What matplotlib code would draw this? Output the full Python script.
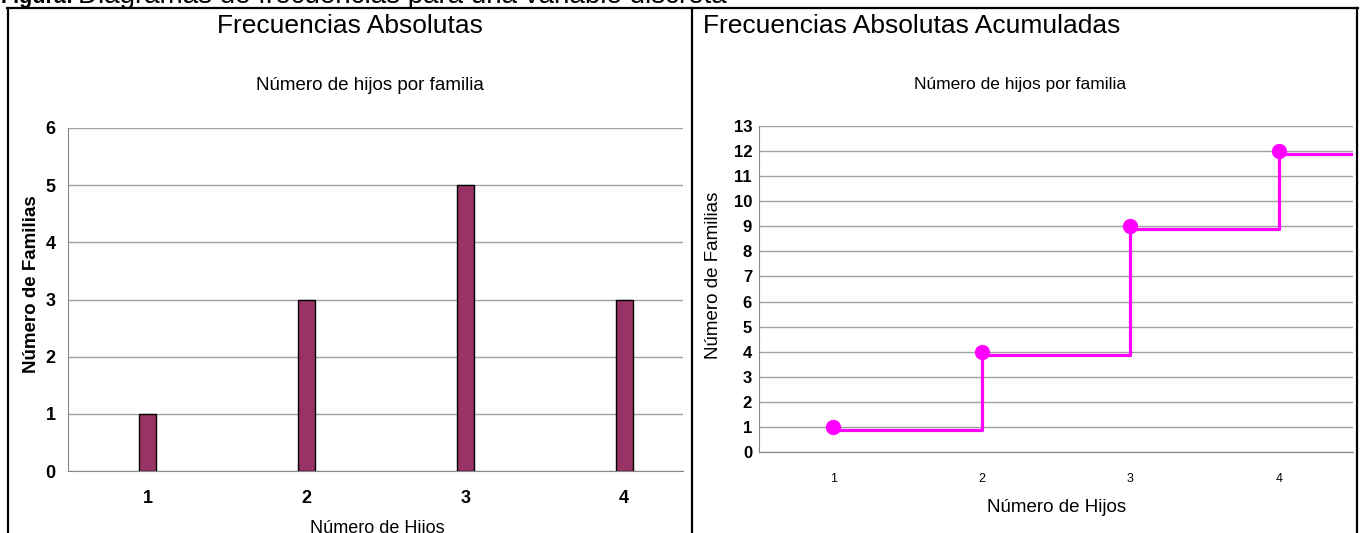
import matplotlib.pyplot as plt
from matplotlib.lines import Line2D
import numpy as np

plt.rcParams['font.family'] = ['Liberation Sans', 'DejaVu Sans']

hijos = [1, 2, 3, 4]
familias = [1, 3, 5, 3]
acumuladas = [1, 4, 9, 12]

W, H = 1363, 533
fig = plt.figure(figsize=(W / 100, H / 100), dpi=100)

def fx(px):
    return px / W

def fy(py):
    return 1 - py / H

grid_c = '#a0a0a0'

# ---- left: absolute frequencies
ax1 = fig.add_axes([fx(68), fy(471), fx(683 - 68), fy(128) - fy(471)])
ax1.bar(hijos, familias, width=0.107, color='#993366', edgecolor='black', linewidth=1, zorder=3)
ax1.set_xlim(0.5, 4.37)
ax1.set_ylim(0, 6)
ax1.set_yticks(range(0, 7))
ax1.set_xticks(hijos)
ax1.yaxis.grid(True, color=grid_c, linewidth=1)
for s in ['top', 'right']:
    ax1.spines[s].set_visible(False)
for s in ['left', 'bottom']:
    ax1.spines[s].set_color('#888888')
ax1.tick_params(axis='y', length=0, pad=9, labelsize=13)
ax1.tick_params(axis='x', length=0, pad=14, labelsize=13)
for t in ax1.get_xticklabels() + ax1.get_yticklabels():
    t.set_fontweight('bold')

# ---- right: cumulative frequencies
ax2 = fig.add_axes([fx(759), fy(452), fx(1353 - 759), fy(126) - fy(452)])
xs = hijos + [4.5]
ys = acumuladas + [acumuladas[-1]]
ax2.step(xs, np.array(ys) - 0.12, where='post', color='#ff00ff', linewidth=2.3, zorder=3)
ax2.plot(hijos, acumuladas, 'o', color='#ff00ff', markersize=10, zorder=4)
ax2.set_xlim(0.5, 4.5)
ax2.set_ylim(0, 13)
ax2.set_yticks(range(0, 14))
ax2.set_xticks(hijos)
ax2.yaxis.grid(True, color=grid_c, linewidth=1)
for s in ['top', 'right']:
    ax2.spines[s].set_visible(False)
for s in ['left', 'bottom']:
    ax2.spines[s].set_color('#888888')
ax2.tick_params(axis='y', length=0, pad=5, labelsize=12)
ax2.tick_params(axis='x', length=0, pad=15, labelsize=9)
for t in ax2.get_yticklabels():
    t.set_fontweight('bold')

# ---- titles and labels
fig.text(fx(350), fy(26), 'Frecuencias Absolutas', ha='center', va='center', fontsize=19)
fig.text(fx(703), fy(26), 'Frecuencias Absolutas Acumuladas', ha='left', va='center', fontsize=19)
fig.text(fx(370), fy(85), 'Número de hijos por familia', ha='center', va='center', fontsize=13.5)
fig.text(fx(1020), fy(84), 'Número de hijos por familia', ha='center', va='center', fontsize=12.5)
fig.text(fx(32), fy(284), 'Número de Familias', rotation=90, ha='center', va='center',
         fontsize=13.5, fontweight='bold')
fig.text(fx(713), fy(275), 'Número de Familias', rotation=90, ha='center', va='center', fontsize=13.5)
fig.text(fx(377), fy(520), 'Número de Hijos', ha='center', va='top', fontsize=13)
fig.text(fx(1057), fy(508), 'Número de Hijos', ha='center', va='center', fontsize=13.5)

# header, cut at the top of the page
fig.text(fx(1), fy(3), 'Figura:', ha='left', va='baseline', fontsize=15.5, fontweight='bold')
fig.text(fx(78), fy(3), 'Diagramas de frecuencias para una variable discreta', ha='left',
         va='baseline', fontsize=20)

# table borders
for line in [([fx(7), fx(1358)], [fy(8), fy(8)]),
             ([fx(8), fx(8)], [fy(8), fy(533)]),
             ([fx(692), fx(692)], [fy(8), fy(533)]),
             ([fx(1357), fx(1357)], [fy(8), fy(533)])]:
    fig.add_artist(Line2D(line[0], line[1], color='black', linewidth=1.6))

fig.savefig('out.png', dpi=100)
